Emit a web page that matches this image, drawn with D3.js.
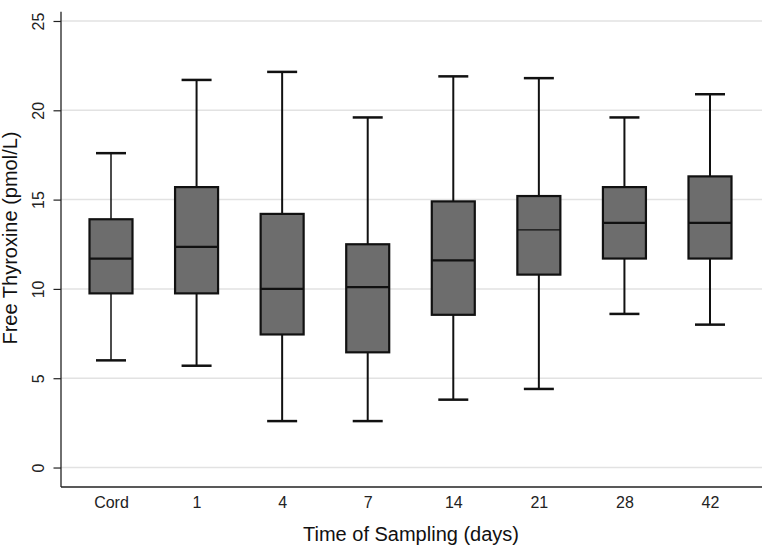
<!DOCTYPE html>
<html>
<head>
<meta charset="utf-8">
<script src="https://cdn.jsdelivr.net/npm/d3@7"></script>
<style>
  html, body { margin: 0; padding: 0; background: #fff; }
  svg { display: block; }
  text { font-family: "Liberation Sans", Arial, sans-serif; fill: #111; }
</style>
</head>
<body>
<svg id="chart" width="762" height="547"></svg>
<script>
// ---- data ----
const categories = ["Cord", "1", "4", "7", "14", "21", "28", "42"];
const whiskerLow  = [6.0, 5.7, 2.6, 2.6, 3.8, 4.4, 8.6, 8.0];
const q1          = [9.75, 9.75, 7.45, 6.45, 8.55, 10.8, 11.7, 11.7];
const medians     = [11.7, 12.35, 10.0, 10.1, 11.6, 13.3, 13.7, 13.7];
const q3          = [13.9, 15.7, 14.2, 12.5, 14.9, 15.2, 15.7, 16.3];
const whiskerHigh = [17.6, 21.7, 22.15, 19.6, 21.9, 21.8, 19.6, 20.9];
const yTicks = [0, 5, 10, 15, 20, 25];
const xTitle = "Time of Sampling (days)";
const yTitle = "Free Thyroxine (pmol/L)";

const rows = categories.map((c, i) => ({
  cat: c, lo: whiskerLow[i], q1: q1[i], med: medians[i], q3: q3[i], hi: whiskerHigh[i]
}));

const svg = d3.select("#chart");
const plotL = 61, plotR = 762, plotT = 11.7, plotB = 487;

const x = d3.scalePoint().domain(categories).range([111, 710]);
const y = d3.scaleLinear().domain([-1.09, 25.52]).range([plotB, plotT]);

// gridlines
svg.append("g").selectAll("line").data(yTicks).join("line")
  .attr("x1", plotL).attr("x2", plotR)
  .attr("y1", d => y(d)).attr("y2", d => y(d))
  .attr("stroke", "#e2e2e2").attr("stroke-width", 1.5);

// y axis
const yAxis = svg.append("g").attr("transform", `translate(${plotL},0)`)
  .call(d3.axisLeft(y).tickValues(yTicks).tickSize(7.5).tickPadding(0).tickFormat(d3.format("d")));
yAxis.select(".domain").attr("d", `M0,${plotT}V${plotB}`).attr("stroke", "#222").attr("stroke-width", 1.3);
yAxis.selectAll(".tick line").attr("stroke", "#222").attr("stroke-width", 1.2);
yAxis.selectAll(".tick text")
  .attr("transform", "rotate(-90)")
  .attr("x", 0).attr("y", -23).attr("dy", "0.35em")
  .attr("text-anchor", "middle")
  .style("font-size", "16px").style("fill", "#222")
  .style("font-family", "'Liberation Sans', Arial, sans-serif");

// x axis
const xAxis = svg.append("g").attr("transform", `translate(0,${plotB})`)
  .call(d3.axisBottom(x).tickSize(0).tickPadding(10));
xAxis.select(".domain").attr("d", `M${plotL},0H${plotR}`).attr("stroke", "#222").attr("stroke-width", 1.5);
xAxis.selectAll(".tick text")
  .style("font-size", "16px").style("fill", "#222")
  .style("font-family", "'Liberation Sans', Arial, sans-serif");

// boxes
const boxW = 43, capW = 30;
const g = svg.append("g");
const b = g.selectAll("g.box").data(rows).join("g").attr("class", "box");

b.append("line")
  .attr("x1", d => x(d.cat)).attr("x2", d => x(d.cat))
  .attr("y1", d => y(d.hi)).attr("y2", d => y(d.q3))
  .attr("stroke", "#111").attr("stroke-width", (d, i) => i === 0 ? 1.5 : 2);
b.append("line")
  .attr("x1", d => x(d.cat)).attr("x2", d => x(d.cat))
  .attr("y1", d => y(d.q1)).attr("y2", d => y(d.lo))
  .attr("stroke", "#111").attr("stroke-width", (d, i) => i === 0 ? 1.5 : 2);
b.append("line")
  .attr("x1", d => x(d.cat) - capW / 2).attr("x2", d => x(d.cat) + capW / 2)
  .attr("y1", d => y(d.hi)).attr("y2", d => y(d.hi))
  .attr("stroke", "#111").attr("stroke-width", 2.5);
b.append("line")
  .attr("x1", d => x(d.cat) - capW / 2).attr("x2", d => x(d.cat) + capW / 2)
  .attr("y1", d => y(d.lo)).attr("y2", d => y(d.lo))
  .attr("stroke", "#111").attr("stroke-width", 2.5);
b.append("rect")
  .attr("x", d => x(d.cat) - boxW / 2).attr("width", boxW)
  .attr("y", d => y(d.q3)).attr("height", d => y(d.q1) - y(d.q3))
  .attr("fill", "#6d6d6d").attr("stroke", "#111").attr("stroke-width", 2.2);
b.append("line")
  .attr("x1", d => x(d.cat) - boxW / 2).attr("x2", d => x(d.cat) + boxW / 2)
  .attr("y1", d => y(d.med)).attr("y2", d => y(d.med))
  .attr("stroke", "#111").attr("stroke-width", (d, i) => i === 5 ? 1.3 : 2.2);

// axis titles
svg.append("text")
  .attr("x", 411).attr("y", 541)
  .attr("text-anchor", "middle")
  .style("font-size", "20px")
  .text(xTitle);
svg.append("text")
  .attr("transform", "translate(17,238) rotate(-90)")
  .attr("text-anchor", "middle")
  .style("font-size", "20px")
  .text(yTitle);
</script>
</body>
</html>
